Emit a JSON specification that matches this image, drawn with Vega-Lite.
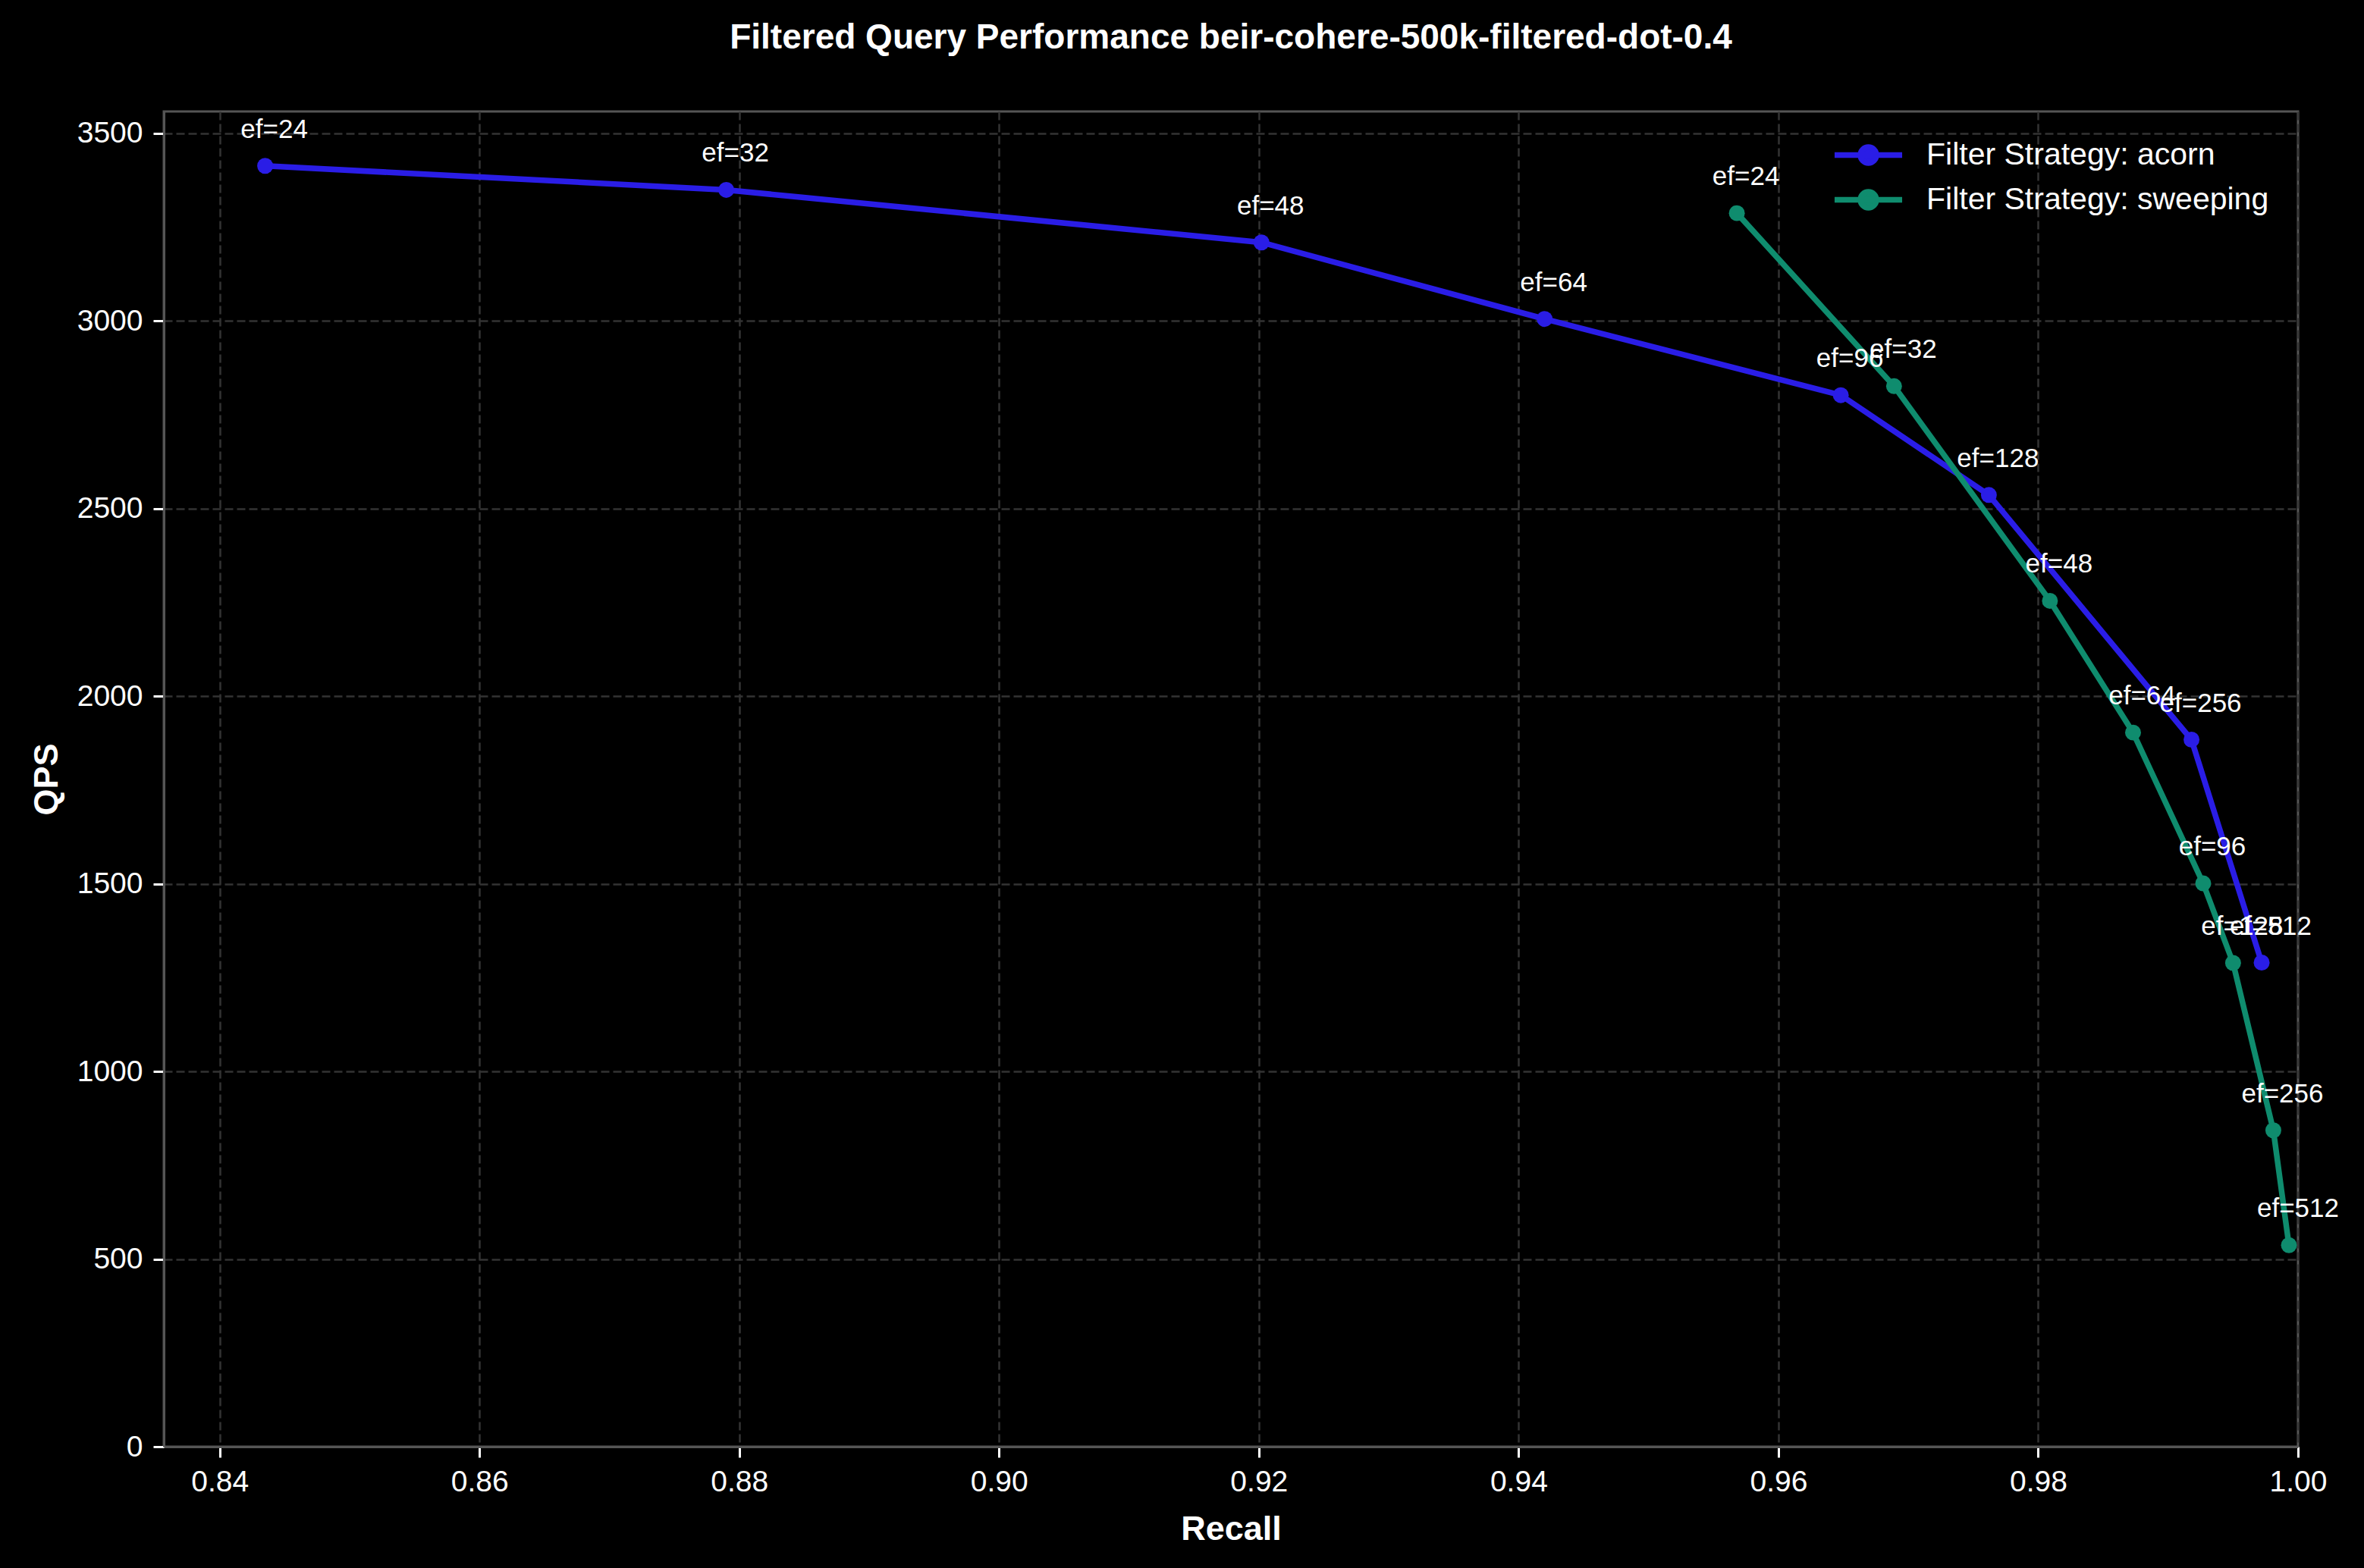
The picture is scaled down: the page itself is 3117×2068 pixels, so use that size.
{
  "$schema": "https://vega.github.io/schema/vega-lite/v6.json",
  "autosize": {"type": "none"},
  "width": 2814,
  "height": 1761,
  "padding": {"left": 216, "top": 147, "right": 87, "bottom": 160},
  "background": "#000000",
  "title": {
    "text": "Filtered Query Performance beir-cohere-500k-filtered-dot-0.4",
    "font": "Liberation Sans",
    "fontSize": 46,
    "fontWeight": "bold",
    "color": "#ffffff",
    "anchor": "middle",
    "frame": "group",
    "baseline": "alphabetic",
    "offset": 37
  },
  "data": {
    "values": [
      {"strategy": "Filter Strategy: acorn", "ef": 24, "label": "ef=24", "recall": 0.8435, "qps": 3413},
      {"strategy": "Filter Strategy: acorn", "ef": 32, "label": "ef=32", "recall": 0.8790, "qps": 3349},
      {"strategy": "Filter Strategy: acorn", "ef": 48, "label": "ef=48", "recall": 0.9202, "qps": 3209},
      {"strategy": "Filter Strategy: acorn", "ef": 64, "label": "ef=64", "recall": 0.9420, "qps": 3005},
      {"strategy": "Filter Strategy: acorn", "ef": 96, "label": "ef=96", "recall": 0.9648, "qps": 2802},
      {"strategy": "Filter Strategy: acorn", "ef": 128, "label": "ef=128", "recall": 0.9762, "qps": 2536},
      {"strategy": "Filter Strategy: acorn", "ef": 256, "label": "ef=256", "recall": 0.9918, "qps": 1884},
      {"strategy": "Filter Strategy: acorn", "ef": 512, "label": "ef=512", "recall": 0.9972, "qps": 1290},
      {"strategy": "Filter Strategy: sweeping", "ef": 24, "label": "ef=24", "recall": 0.9568, "qps": 3287},
      {"strategy": "Filter Strategy: sweeping", "ef": 32, "label": "ef=32", "recall": 0.9689, "qps": 2826},
      {"strategy": "Filter Strategy: sweeping", "ef": 48, "label": "ef=48", "recall": 0.9809, "qps": 2254},
      {"strategy": "Filter Strategy: sweeping", "ef": 64, "label": "ef=64", "recall": 0.9873, "qps": 1903},
      {"strategy": "Filter Strategy: sweeping", "ef": 96, "label": "ef=96", "recall": 0.9927, "qps": 1501},
      {"strategy": "Filter Strategy: sweeping", "ef": 128, "label": "ef=128", "recall": 0.9950, "qps": 1289},
      {"strategy": "Filter Strategy: sweeping", "ef": 256, "label": "ef=256", "recall": 0.9981, "qps": 843},
      {"strategy": "Filter Strategy: sweeping", "ef": 512, "label": "ef=512", "recall": 0.9993, "qps": 537}
    ]
  },
  "encoding": {
    "x": {
      "field": "recall",
      "type": "quantitative",
      "scale": {"domain": [0.8357, 1.0], "nice": false, "zero": false},
      "axis": {
        "title": "Recall",
        "values": [0.84, 0.86, 0.88, 0.90, 0.92, 0.94, 0.96, 0.98, 1.00],
        "format": ".2f",
        "labelPadding": 13,
        "titlePadding": 20,
        "labelFlush": false
      }
    },
    "y": {
      "field": "qps",
      "type": "quantitative",
      "scale": {"domain": [0, 3558], "nice": false},
      "axis": {
        "title": "QPS",
        "values": [0, 500, 1000, 1500, 2000, 2500, 3000, 3500],
        "format": "d",
        "labelPadding": 14,
        "titlePadding": 17,
        "labelFlush": false
      }
    }
  },
  "layer": [
    {
      "mark": {"type": "line", "strokeWidth": 7.5, "strokeCap": "square"},
      "encoding": {
        "order": {"field": "ef", "type": "quantitative"},
        "color": {
          "field": "strategy",
          "type": "nominal",
          "scale": {"domain": ["Filter Strategy: acorn", "Filter Strategy: sweeping"], "range": ["#2a1de6", "#0f8c6e"]},
          "legend": {
            "title": null,
            "orient": "none",
            "legendX": 2214,
            "legendY": 24,
            "padding": 0,
            "symbolType": "M -1.52 0 L 1.52 0 M 0.358 0 A 0.358 0.358 0 1 1 -0.358 0 A 0.358 0.358 0 1 1 0.358 0 Z",
            "symbolSize": 3434,
            "symbolStrokeWidth": 7.5,
            "labelFont": "Liberation Sans",
            "labelFontSize": 41,
            "labelColor": "#ffffff",
            "labelOffset": 43,
            "labelLimit": 1000,
            "rowPadding": 0,
            "encode": {
              "symbols": {
                "update": {
                  "fill": {"scale": "color", "field": "value"},
                  "stroke": {"scale": "color", "field": "value"},
                  "fillOpacity": {"value": 1},
                  "strokeOpacity": {"value": 1},
                  "opacity": {"value": 1}
                }
              }
            }
          }
        }
      }
    },
    {
      "mark": {"type": "point", "filled": true, "size": 440, "opacity": 1, "shape": "circle"},
      "encoding": {
        "color": {"field": "strategy", "type": "nominal"}
      }
    },
    {
      "mark": {
        "type": "text",
        "font": "Liberation Sans",
        "fontSize": 35,
        "color": "#ffffff",
        "align": "center",
        "baseline": "alphabetic",
        "dx": 12,
        "dy": -37
      },
      "encoding": {
        "text": {"field": "label", "type": "nominal"}
      }
    }
  ],
  "config": {
    "view": {"stroke": "#555555", "strokeWidth": 3},
    "axis": {
      "domain": true,
      "domainColor": "#555555",
      "domainWidth": 3,
      "grid": true,
      "gridColor": "#333333",
      "gridDash": [11, 5],
      "gridWidth": 2.5,
      "ticks": true,
      "tickColor": "#ffffff",
      "tickSize": 14,
      "tickWidth": 3,
      "labelColor": "#ffffff",
      "labelFont": "Liberation Sans",
      "labelFontSize": 39,
      "titleColor": "#ffffff",
      "titleFont": "Liberation Sans",
      "titleFontSize": 45,
      "titleFontWeight": "bold"
    }
  }
}
